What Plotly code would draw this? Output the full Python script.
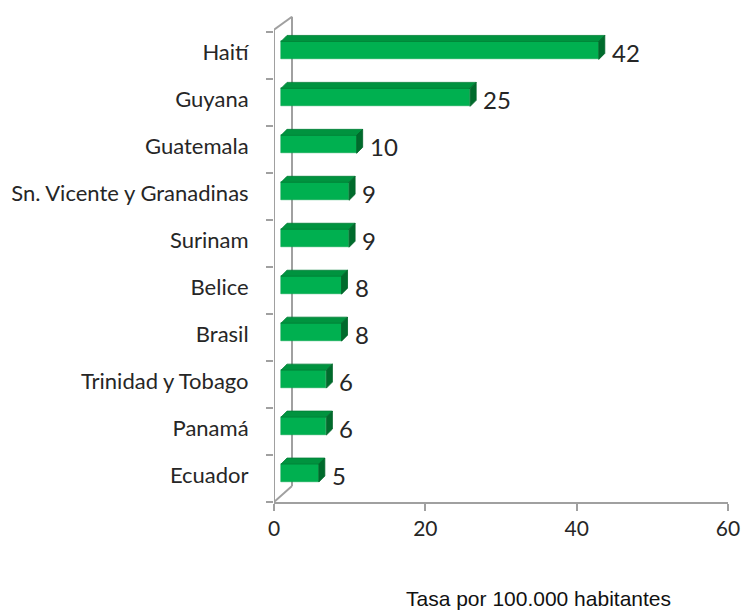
import plotly.graph_objects as go

countries = ["Haití", "Guyana", "Guatemala", "Sn. Vicente y Granadinas", "Surinam",
             "Belice", "Brasil", "Trinidad y Tobago", "Panamá", "Ecuador"]
values = [42, 25, 10, 9, 9, 8, 8, 6, 6, 5]
x_ticks = [0, 20, 40, 60]
x_title = "Tasa por 100.000 habitantes"

# layout geometry (pixels)
W, H = 744, 610
L, R, T, B = 274, 16, 15.5, 108
plot_w = W - L - R
plot_h = H - T - B
x_min, x_max = 0, 60
y_min, y_max = -0.5, 9.85
px_x = plot_w / (x_max - x_min)
px_y = plot_h / (y_max - y_min)

# 3D depth offsets
bar_shift_x = 7 / px_x
bar_shift_y = 5.5 / px_y
dx = 6 / px_x
dy = 6 / px_y
bw = 18 / px_y
wall_dx = 18 / px_x
wall_dy = 16 / px_y

n = len(countries)
pos = [n - 1 - i for i in range(n)]  # Haití at top

front = "#00B050"
top_c = "#00933F"
side_c = "#006B2C"
wall = "#A0A0A0"
txt = "#262626"

fig = go.Figure()
fig.add_trace(go.Bar(
    x=values, y=pos, orientation="h", width=bw, base=0,
    marker=dict(color=front, line=dict(color="#00A048", width=0.5)),
    xaxis="x2", yaxis="y2", hoverinfo="skip", showlegend=False))

tx, ty, sx, sy = [], [], [], []
for v, p in zip(values, pos):
    t = p + bw / 2
    b = p - bw / 2
    tx += [0, v, v + dx, dx, 0, None]
    ty += [t, t, t + dy, t + dy, t, None]
    sx += [v, v + dx, v + dx, v, v, None]
    sy += [b, b + dy, t + dy, t, b, None]
fig.add_trace(go.Scatter(x=tx, y=ty, fill="toself", fillcolor=top_c, mode="lines",
                         line=dict(color="#007F36", width=0.8), xaxis="x2", yaxis="y2",
                         hoverinfo="skip", showlegend=False))
fig.add_trace(go.Scatter(x=sx, y=sy, fill="toself", fillcolor=side_c, mode="lines",
                         line=dict(color="#006328", width=0.8), xaxis="x2", yaxis="y2",
                         hoverinfo="skip", showlegend=False))

for v, p in zip(values, pos):
    fig.add_annotation(x=v + dx, y=p, xref="x2", yref="y2", text=str(v),
                       showarrow=False, xanchor="left", yanchor="middle",
                       xshift=5, yshift=-2,
                       font=dict(family="Lato", size=24, color=txt))

# wall lines
y_top_front = 9.5 + 2.7 / px_y
y_top_back = 9.5 + 15.7 / px_y
for x0, y0, x1, y1 in [
    (0, -0.5, 0, y_top_front),
    (0, -0.5, wall_dx, -0.5 + wall_dy),
    (wall_dx, -0.5 + wall_dy, wall_dx, y_top_back),
    (0, y_top_front, wall_dx, y_top_back),
]:
    fig.add_shape(type="line", x0=x0, y0=y0, x1=x1, y1=y1, xref="x", yref="y",
                  line=dict(color=wall, width=2), layer="below")

fig.add_annotation(x=(538 - L) / plot_w, y=0, xref="paper", yref="paper",
                   text=x_title, showarrow=False, yanchor="middle", yshift=-96,
                   font=dict(family="Liberation Sans", size=21, color="#111111"))

fig.update_layout(
    width=W, height=H,
    margin=dict(l=L, r=R, t=T, b=B, pad=0, autoexpand=False),
    plot_bgcolor="white", paper_bgcolor="white",
    xaxis=dict(range=[x_min, x_max], tickvals=x_ticks, showgrid=False, zeroline=False,
               showline=True, linecolor=wall, linewidth=2, automargin=False,
               ticks="outside", ticklen=7, tickwidth=2, tickcolor=wall,
               tickfont=dict(family="Lato", size=21, color=txt)),
    yaxis=dict(range=[y_min, y_max], tickvals=[p + 0.07 for p in pos], ticktext=countries,
               showgrid=False, zeroline=False, showline=False, automargin=False,
               ticks="outside", ticklen=20, tickcolor="rgba(0,0,0,0)",
               tickfont=dict(family="Lato", size=22, color=txt),
               minor=dict(tickmode="array", tickvals=[i - 0.5 for i in range(n + 1)],
                          ticks="outside", ticklen=7, tickwidth=2, tickcolor=wall,
                          showgrid=False)),
    xaxis2=dict(overlaying="x", range=[x_min - bar_shift_x, x_max - bar_shift_x],
                visible=False),
    yaxis2=dict(overlaying="y", range=[y_min - bar_shift_y, y_max - bar_shift_y],
                visible=False),
    bargap=0,
)

fig.write_html("out.html", config={"displayModeBar": False},
               post_script="document.body.style.margin='0';document.body.style.overflow='hidden';")
